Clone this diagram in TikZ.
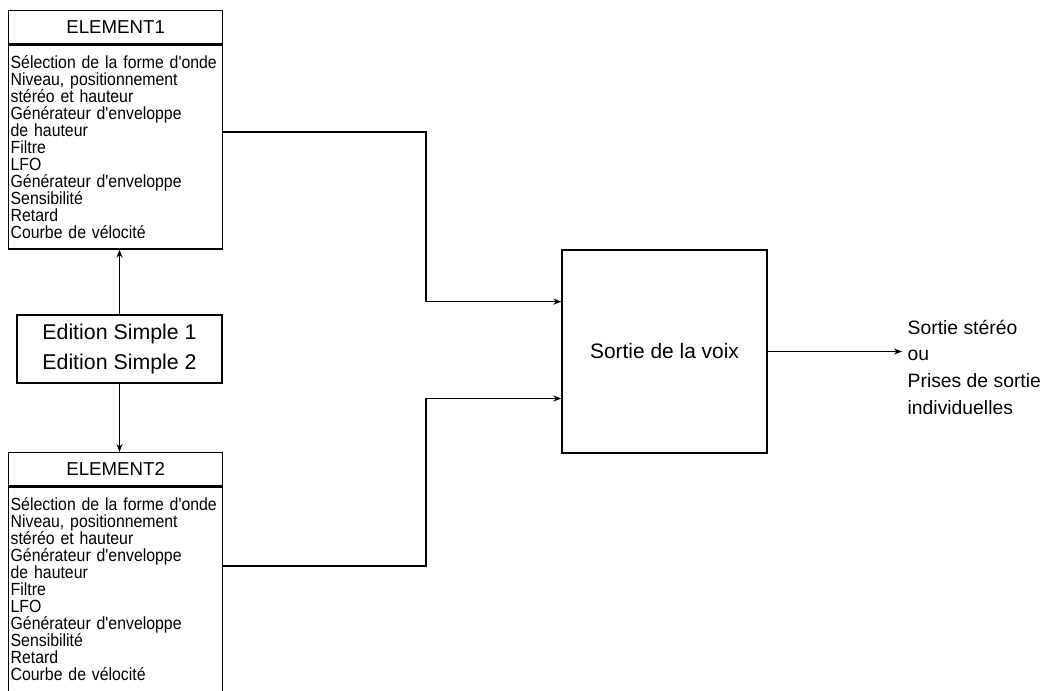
\documentclass[tikz,border=0pt]{standalone}
\usepackage{fontspec}
\setmainfont{Liberation Sans}
\newfontfamily\narrowfont{Liberation Sans}[FakeStretch=0.9]
\usetikzlibrary{arrows.meta,positioning,calc}

\begin{document}
\begin{tikzpicture}[x=0.75pt,y=-0.75pt,line width=1pt,>={Stealth[length=6pt,width=4.5pt]},
  title/.style={draw,minimum width=160.5pt,minimum height=24.75pt,inner sep=0pt,font=\fontsize{14}{15}\selectfont},
  params/.style={draw,minimum width=160.5pt,minimum height=153pt,text width=157.5pt,inner xsep=1.5pt,inner ysep=2pt,align=left,font=\narrowfont\fontsize{13.2}{12.75}\selectfont},
  block/.style={draw,inner sep=0pt,align=center}]
\useasboundingbox (0,0) rectangle (1060,690);
% element blocks
\node[title,anchor=north west] (elemA) at (8,10) {ELEMENT1};
\node[params,below=0pt of elemA] (elemAbody) {S\'election de la forme d'onde\\Niveau, positionnement\\st\'er\'eo et hauteur\\G\'en\'erateur d'enveloppe\\de hauteur\\Filtre\\LFO\\G\'en\'erateur d'enveloppe\\Sensibilit\'e\\Retard\\Courbe de v\'elocit\'e};
\node[title,anchor=north west] (elemB) at (8,452) {ELEMENT2};
\node[params,below=0pt of elemB,minimum height=165.75pt] (elemBbody) {S\'election de la forme d'onde\\Niveau, positionnement\\st\'er\'eo et hauteur\\G\'en\'erateur d'enveloppe\\de hauteur\\Filtre\\LFO\\G\'en\'erateur d'enveloppe\\Sensibilit\'e\\Retard\\Courbe de v\'elocit\'e\\~};
% edit and voice
\node[block,minimum width=153.75pt,minimum height=51pt,font=\fontsize{16}{22.5}\selectfont] (edit) at (119.5,349) {Edition Simple 1\\Edition Simple 2};
\node[block,minimum width=153.75pt,minimum height=152.25pt,font=\fontsize{15.7}{18}\selectfont] (voix) at (664.5,351.5) {Sortie de la voix};
\node[anchor=west,inner sep=0pt,align=left,font=\fontsize{14.5}{20}\selectfont] (stereo) at (907,367) {Sortie st\'er\'eo\\ou\\Prises de sortie\\individuelles};
\coordinate (bendA) at (426,132);
\coordinate (bendB) at (426,566);
\coordinate (inA) at ($(voix.north west)!0.256!(voix.south west)$);
\coordinate (inB) at ($(voix.north west)!0.73!(voix.south west)$);
\coordinate (tip) at ([xshift=-3.75pt]stereo.west |- voix.east);
% connectors
\draw[->] (edit.north) -- (edit.north |- elemAbody.south);
\draw[->] (edit.south) -- (edit.south |- elemB.north);
\draw[->] (elemAbody.east |- bendA) -- (bendA) |- (inA);
\draw[->] (elemBbody.east |- bendB) -- (bendB) |- (inB);
\draw[->] (voix.east) -- (tip);
\end{tikzpicture}
\end{document}
